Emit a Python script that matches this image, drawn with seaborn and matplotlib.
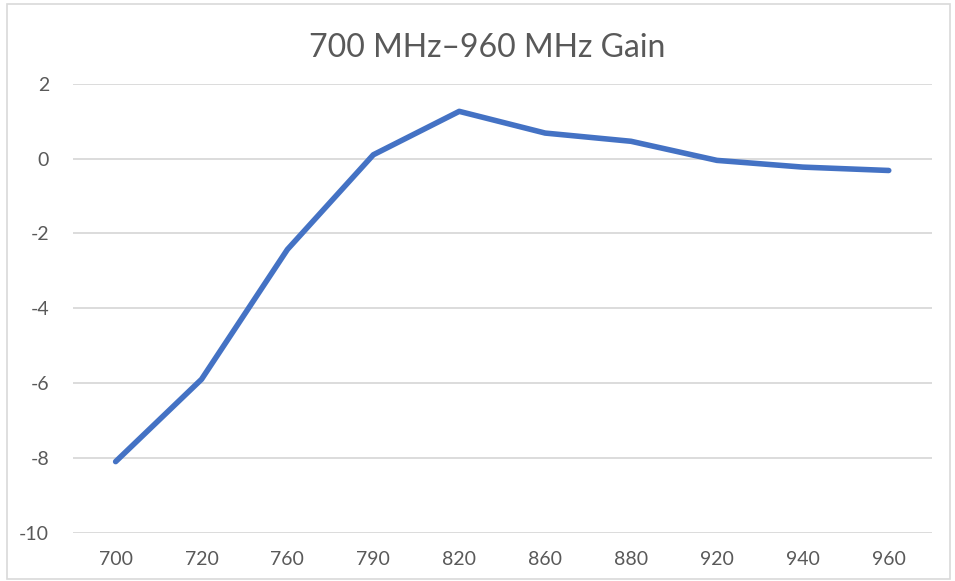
import matplotlib
matplotlib.use("Agg")
import matplotlib.pyplot as plt
import seaborn as sns
import pandas as pd
from matplotlib.patches import Rectangle

# data
freqs = ["700", "720", "760", "790", "820", "860", "880", "920", "940", "960"]
gain = [-8.1, -5.9, -2.43, 0.1, 1.26, 0.68, 0.46, -0.05, -0.23, -0.32]
y_ticks = [-10, -8, -6, -4, -2, 0, 2]

df = pd.DataFrame({"freq": freqs, "gain": gain})

sns.set_theme(style="white")
plt.rcParams["font.family"] = ["Lato", "DejaVu Sans"]

fig = plt.figure(figsize=(9.55, 5.81), dpi=100)
ax = fig.add_axes([0.0761, 0.0831, 0.8995, 0.7729])

sns.lineplot(data=df, x="freq", y="gain", ax=ax, color="#4472C4",
             linewidth=4.0, solid_capstyle="round", solid_joinstyle="round")

ax.set_xlim(-0.5, len(freqs) - 0.5)
ax.set_ylim(-10, 2)
ax.set_yticks(y_ticks)
ax.set_yticklabels([str(t) for t in y_ticks])
ax.yaxis.grid(True, color="#D9D9D9", linewidth=1.3)
ax.set_axisbelow(True)
for s in ax.spines.values():
    s.set_visible(False)
ax.tick_params(axis="both", length=0, labelsize=14, colors="#595959")
ax.tick_params(axis="y", pad=17)
ax.tick_params(axis="x", pad=13)
ax.set_xlabel("")
ax.set_ylabel("")

fig.text(0.51, 0.917, "700 MHz\u2013960 MHz Gain", ha="center", va="center",
         fontsize=23, color="#595959")

# outer chart border like the spreadsheet chart area
fig.patches.append(Rectangle((0.0073, 0.003), 0.987, 0.99, transform=fig.transFigure,
                             fill=False, edgecolor="#D9D9D9", linewidth=1.2))

fig.savefig("out.png", dpi=100)
